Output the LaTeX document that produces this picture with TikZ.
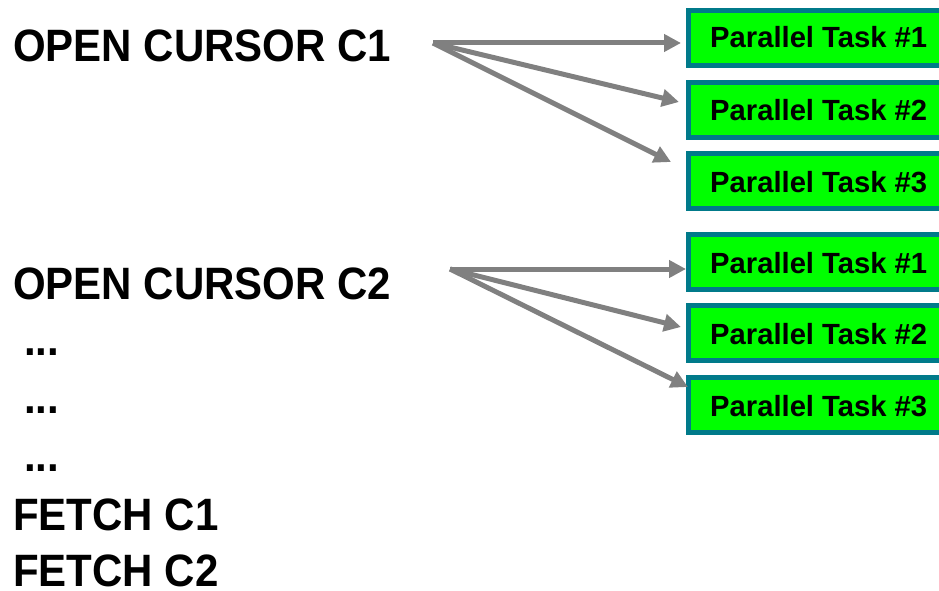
\documentclass[tikz,border=0pt]{standalone}
\usepackage{fontspec}
\setmainfont{Liberation Sans}
\usetikzlibrary{arrows.meta}
\definecolor{taskfill}{HTML}{00FF00}
\definecolor{taskedge}{HTML}{007A8A}
\definecolor{arrowgray}{HTML}{808080}
\newcommand{\tallstmt}[1]{\scalebox{1}[1.08]{#1}}
\tikzset{
  x=1pt, y=-1pt,
  stmt/.style={anchor=base west, inner sep=0pt, font=\fontsize{42}{42}\selectfont\bfseries},
  taskbox/.style={draw=taskedge, line width=5pt, fill=taskfill, minimum height=55pt,
    minimum width=270pt, anchor=north west, inner sep=0pt},
  tasklabel/.style={anchor=base west, inner sep=0pt, font=\fontsize{29.2}{29.2}\selectfont\bfseries},
  fork/.style={draw=arrowgray, line width=5pt,
    -{Triangle[length=17pt, width=17pt]}},
}
\begin{document}
\begin{tikzpicture}
  \useasboundingbox (0,0) rectangle (939,591);
  \clip (0,0) rectangle (939,591);

  % statement column
  \node[stmt] (open1) at (13,62) {\tallstmt{OPEN CURSOR C1}};
  \node[stmt] (open2) at (13,299) {\tallstmt{OPEN CURSOR C2}};
  \node[stmt] (dots1) at (24,355) {\tallstmt{...}};
  \node[stmt] (dots2) at (24,413) {\tallstmt{...}};
  \node[stmt] (dots3) at (24,471) {\tallstmt{...}};
  \node[stmt] (fetch1) at (13,530) {\tallstmt{FETCH C1}};
  \node[stmt] (fetch2) at (13,586) {\tallstmt{FETCH C2}};

  % parallel tasks of cursor C1
  \node[taskbox] (a1) at (686,8) {};
  \node[taskbox] (a2) at (686,80) {};
  \node[taskbox] (a3) at (686,151) {};
  % parallel tasks of cursor C2
  \node[taskbox] (b1) at (686,232) {};
  \node[taskbox] (b2) at (686,303) {};
  \node[taskbox] (b3) at (686,375) {};

  \node[tasklabel] (la1) at (710,48) {Parallel Task \#1};
  \node[tasklabel] (la2) at (710,121) {Parallel Task \#2};
  \node[tasklabel] (la3) at (710,192) {Parallel Task \#3};
  \node[tasklabel] (lb1) at (710,273) {Parallel Task \#1};
  \node[tasklabel] (lb2) at (710,344) {Parallel Task \#2};
  \node[tasklabel] (lb3) at (710,416) {Parallel Task \#3};

  % fork points and arrow tips
  \coordinate (fa) at (433,43);
  \coordinate (ta1) at (681,43);
  \coordinate (ta2) at (679,102);
  \coordinate (ta3) at (671,162);
  \coordinate (fb) at (450,269);
  \coordinate (tb1) at (686,269);
  \coordinate (tb2) at (681,327);
  \coordinate (tb3) at (688,387);

  \draw[fork] (fa) -- (ta1);
  \draw[fork] (fa) -- (ta2);
  \draw[fork] (fa) -- (ta3);
  \draw[fork] (fb) -- (tb1);
  \draw[fork] (fb) -- (tb2);
  \draw[fork] (fb) -- (tb3);
\end{tikzpicture}
\end{document}
